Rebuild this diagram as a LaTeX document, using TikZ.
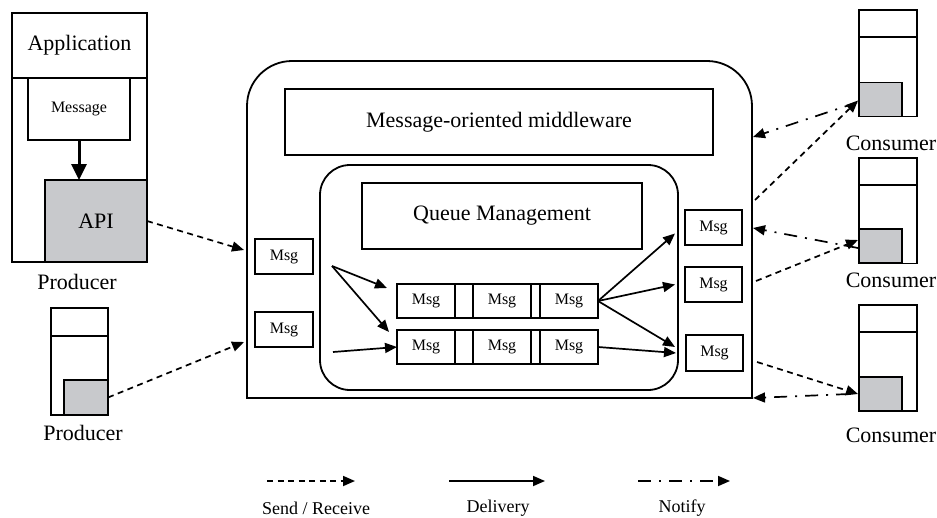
\documentclass[tikz,border=0pt]{standalone}
\usepackage{fontspec}
\setmainfont{Liberation Serif}
\usetikzlibrary{arrows.meta,calc}
\definecolor{apigray}{RGB}{200,201,204}
\tikzset{
  box/.style={draw, line width=1.8pt, inner sep=0pt, outer sep=0pt},
  bigtxt/.style={font=\fontsize{22}{26}\selectfont},
  smalltxt/.style={font=\fontsize{16}{19}\selectfont},
  legendtxt/.style={font=\fontsize{18}{21}\selectfont},
  msgbox/.style={box, smalltxt, minimum width=58pt, minimum height=35pt},
  cell/.style={box, smalltxt, minimum height=34pt},
  gbox/.style={box, fill=apigray},
  tip/.style={-{Triangle[length=12pt,width=10pt]}},
  sendline/.style={tip, line width=1.7pt, dash pattern=on 6pt off 4.5pt},
  deliverline/.style={tip, line width=1.7pt},
  notifyline/.style={tip, line width=1.7pt, dash pattern=on 13pt off 8pt on 2pt off 8pt},
}
\begin{document}
\begin{tikzpicture}[x=1pt, y=-1pt]
\useasboundingbox (0,0) rectangle (937,517);

% ---------- producer with application ----------
\node[box, minimum width=135pt, minimum height=249pt] (app) at (79.5,137.5) {};
\node[box, bigtxt, minimum width=135pt, minimum height=65pt] (apptitle) at (79.5,45.5) {Application};
\node[box, smalltxt, minimum width=102pt, minimum height=62pt] (message) at (79,109) {Message};
\node[gbox, bigtxt, minimum width=102pt, minimum height=82pt] (api) at (96,221) {API};
\node[bigtxt] (prodlabel1) at (77,282) {Producer};
\draw[line width=3pt, -{Triangle[length=16pt,width=15pt]}] (message.south) -- (message.south |- api.north);

% ---------- second producer ----------
\node[box, minimum width=57pt, minimum height=107pt] (prod2) at (79.5,361.5) {};
\node[box, minimum width=57pt, minimum height=28pt] (prod2top) at (79.5,322) {};
\node[gbox, minimum width=44pt, minimum height=35pt] (prod2api) at (86,397.5) {};
\node[bigtxt] (prodlabel2) at (83,433) {Producer};

% ---------- message-oriented middleware ----------
\node[minimum width=505pt, minimum height=337pt, inner sep=0pt, outer sep=0pt] (mw) at (499.5,229.5) {};
\draw[line width=1.8pt, line cap=rect] (mw.south west) -- (mw.south east);
\draw[line width=1.8pt, rounded corners=45pt] (mw.south west) -- (mw.north west) -- (mw.north east) -- (mw.south east);
\node[box, bigtxt, minimum width=428pt, minimum height=66pt] (mwtitle) at (499,122) {Message-oriented middleware};

% inner queue manager
\node[box, rounded corners=30pt, minimum width=358pt, minimum height=225pt] (qm) at (499,277.5) {};
\node[box, bigtxt, minimum width=280pt, minimum height=66pt] (qmtitle) at (502,216) {Queue Management};

% queue rows
\node[cell, minimum width=58pt] (q11) at (426,301) {Msg};
\node[cell, minimum width=18pt] (q1g1) at (464,301) {};
\node[cell, minimum width=58pt] (q12) at (502,301) {Msg};
\node[cell, minimum width=9pt] (q1g2) at (535.5,301) {};
\node[cell, minimum width=58pt] (q13) at (569,301) {Msg};

\node[cell, minimum width=58pt] (q21) at (426,347) {Msg};
\node[cell, minimum width=18pt] (q2g1) at (464,347) {};
\node[cell, minimum width=58pt] (q22) at (502,347) {Msg};
\node[cell, minimum width=9pt] (q2g2) at (535.5,347) {};
\node[cell, minimum width=58pt] (q23) at (569,347) {Msg};

% incoming and outgoing messages
\node[msgbox] (in1) at (284,256.5) {Msg};
\node[msgbox] (in2) at (284,329.5) {Msg};
\node[msgbox, minimum width=57pt] (out1) at (713.5,227.5) {Msg};
\node[msgbox, minimum width=57pt] (out2) at (713.5,284.5) {Msg};
\node[msgbox, minimum width=57pt, minimum height=36pt] (out3) at (714.5,353) {Msg};

% delivery inside the queue manager
\coordinate (split) at (332,266);
\coordinate (feed) at (333,352);
\draw[deliverline] (split) -- ($(q11.north west)+(-10,4)$);
\draw[deliverline] (split) -- ($(q21.north west)+(-8,2)$);
\draw[deliverline] (feed) -- (q21.west);
\draw[deliverline] (q13.east) -- ($(out1.west)+(-10,6)$);
\draw[deliverline] (q13.east) -- ($(out2.west)+(-10,0)$);
\draw[deliverline] (q13.east) -- ($(out3.west)+(-11,-6)$);
\draw[deliverline] (q23.east) -- ($(out3.west)+(-10,0)$);

% ---------- consumers ----------
\foreach \n/\cy/\ty/\gy/\ly in {1/63.5/23.5/99.5/143, 2/210.5/171.5/246/280, 3/358/318.5/394/435}{
  \node[box, minimum width=58pt, minimum height=106pt] (cons\n) at (888,\cy) {};
  \node[box, minimum width=58pt, minimum height=27pt] (cons\n top) at (888,\ty) {};
  \node[gbox, minimum width=43pt, minimum height=34pt] (cons\n api) at (880.5,\gy) {};
  \node[bigtxt] (conslabel\n) at (891,\ly) {Consumer};
}

% ---------- send / receive and notify ----------
\coordinate (mwin1) at (244,250);
\coordinate (mwin2) at (244,342);
\draw[sendline] (api.east) -- (mwin1);
\draw[sendline] (prod2api.east) -- (mwin2);

\coordinate (mwout1) at (755,200);
\coordinate (mwout2) at (756,281);
\coordinate (mwout3) at (757,362);
\coordinate (mwnote1) at (753,137);
\coordinate (mwnote2) at (753,228);
\coordinate (mwnote3) at (753,398);

\draw[sendline] (mwout1) -- ($(cons1api.west)+(-1,1)$);
\draw[notifyline] ($(cons1api.west)+(-2,3)$) -- (mwnote1);
\draw[sendline] (mwout2) -- ($(cons2api.west)+(-1,-6)$);
\draw[notifyline] ($(cons2api.west)+(-1,2)$) -- (mwnote2);
\draw[sendline] (mwout3) -- ($(cons3api.west)+(-1,0)$);
\draw[notifyline] ($(cons3api.west)+(-10,0)$) -- (mwnote3);

% ---------- legend ----------
\coordinate (lsa) at (267,481);
\coordinate (lsb) at (355,481);
\coordinate (lda) at (449,481);
\coordinate (ldb) at (545,481);
\coordinate (lna) at (638,481);
\coordinate (lnb) at (730,481);
\draw[sendline] (lsa) -- (lsb);
\draw[deliverline] (lda) -- (ldb);
\draw[notifyline] (lna) -- (lnb);
\node[legendtxt] (legsend) at (316,508) {Send / Receive};
\node[legendtxt] (legdeliver) at (498,508) {Delivery};
\node[legendtxt] (legnotify) at (682,508) {Notify};
\end{tikzpicture}
\end{document}
